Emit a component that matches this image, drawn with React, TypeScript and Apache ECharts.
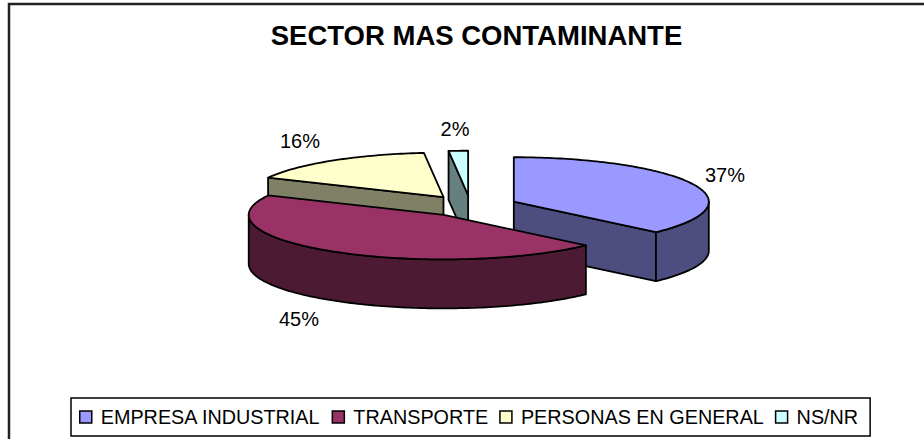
import React, { useEffect, useRef } from "react";
import * as echarts from "echarts";

const titleText = "SECTOR MAS CONTAMINANTE";
const categories = ["EMPRESA INDUSTRIAL", "TRANSPORTE", "PERSONAS EN GENERAL", "NS/NR"];
const values = [37, 45.2, 16.2, 1.6];
const topColors = ["#9999ff", "#993366", "#ffffcc", "#ccffff"];
const wallColors = ["#4d4d80", "#4d1a33", "#808066", "#668080"];
const labelAnchors = [[725, 175], [299, 319], [300, 141], [455, 129]];

const CX = 470.5, CY = 206, RX = 195, RY = 44.5, DEPTH = 49, EXPLODE = 0.242;
const STROKE = "#000000";
const FONT = "Liberation Sans, Arial, sans-serif";

const total = values.reduce((a, b) => a + b, 0);
const rad = (pct: number) => (pct / total) * Math.PI * 2;

function renderSlice(index: number) {
  return (_params: any, api: any) => {
    const value = api.value(0);
    const before = values.slice(0, index).reduce((a, b) => a + b, 0);
    const a0 = rad(before);
    const a1 = rad(before + value);
    const mid = (a0 + a1) / 2;
    const cx = CX + EXPLODE * RX * Math.sin(mid);
    const cy = CY - EXPLODE * RY * Math.cos(mid);
    const at = (a: number, dy = 0) => [cx + RX * Math.sin(a), cy - RY * Math.cos(a) + dy];
    const arc = (from: number, to: number, dy = 0) => {
      const pts: number[][] = [];
      const n = Math.max(2, Math.ceil(Math.abs(to - from) / 0.02));
      for (let i = 0; i <= n; i++) pts.push(at(from + ((to - from) * i) / n, dy));
      return pts;
    };
    const base = { stroke: STROKE, lineWidth: 1.8, lineJoin: "round" };
    const wallStyle = { ...base, fill: wallColors[index] };
    const children: any[] = [];
    if (Math.sin(a0) < -1e-6) {
      const p = at(a0);
      children.push({
        type: "polygon",
        z2: 1,
        shape: { points: [p, [cx, cy], [cx, cy + DEPTH], [p[0], p[1] + DEPTH]] },
        style: wallStyle,
      });
    }
    if (Math.sin(a1) > 1e-6) {
      const p = at(a1);
      children.push({
        type: "polygon",
        z2: 1,
        shape: { points: [[cx, cy], p, [p[0], p[1] + DEPTH], [cx, cy + DEPTH]] },
        style: wallStyle,
      });
    }
    const wallFrom = Math.max(a0, Math.PI / 2);
    const wallTo = Math.min(a1, (Math.PI * 3) / 2);
    if (wallTo > wallFrom) {
      children.push({
        type: "polygon",
        z2: 2,
        shape: { points: [...arc(wallFrom, wallTo), ...arc(wallTo, wallFrom, DEPTH)] },
        style: wallStyle,
      });
    }
    children.push({
      type: "polygon",
      z2: 3,
      shape: { points: [[cx, cy], ...arc(a0, a1)] },
      style: { ...base, fill: topColors[index] },
    });
    const [lx, ly] = labelAnchors[index];
    children.push({
      type: "text",
      z2: 4,
      style: {
        text: `${Math.round(value)}%`,
        x: lx,
        y: ly,
        fill: "#000000",
        font: `20px ${FONT}`,
        align: "center",
        verticalAlign: "middle",
      },
    });
    return { type: "group", children };
  };
}

export default function App() {
  const ref = useRef<HTMLDivElement>(null);
  useEffect(() => {
    const chart = echarts.init(ref.current!, undefined, { renderer: "svg" });
    const drawOrder = categories.map((_, i) => {
      const before = values.slice(0, i).reduce((a, b) => a + b, 0);
      return -Math.cos(rad(before + values[i] / 2));
    });
    chart.setOption({
      animation: false,
      backgroundColor: "#ffffff",
      title: {
        text: titleText,
        left: 476.5,
        top: 21,
        textAlign: "center",
        padding: 0,
        textStyle: { fontFamily: FONT, fontSize: 27.5, fontWeight: "bold", color: "#000000" },
      },
      legend: {
        data: categories,
        left: 71,
        top: 398,
        orient: "horizontal",
        borderColor: "#000000",
        borderWidth: 1.5,
        backgroundColor: "#ffffff",
        padding: [9, 12, 9, 8],
        itemWidth: 12,
        itemHeight: 12,
        itemGap: 11,
        icon: "rect",
        selectedMode: false,
        itemStyle: { borderColor: "#000000", borderWidth: 1.5 },
        textStyle: { fontFamily: FONT, fontSize: 19.8, color: "#000000", padding: [0, 0, 0, 4] },
      },
      graphic: [
        {
          type: "polyline",
          shape: { points: [[9, 445], [9, 4], [930, 4]] },
          style: { stroke: "#222222", lineWidth: 2.5, fill: "none" },
        },
      ],
      series: categories.map((name, i) => ({
        type: "custom",
        name,
        coordinateSystem: "none",
        z: 2 + drawOrder[i],
        silent: true,
        itemStyle: { color: topColors[i] },
        renderItem: renderSlice(i),
        data: [[values[i]]],
      })),
    });
    return () => chart.dispose();
  }, []);
  return <div ref={ref} style={{ position: "absolute", left: 0, top: 0, width: 924, height: 439 }} />;
}
